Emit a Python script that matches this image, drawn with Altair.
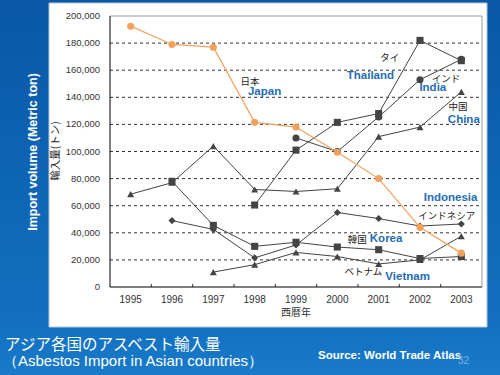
import altair as alt
import pandas as pd

years = [1995, 1996, 1997, 1998, 1999, 2000, 2001, 2002, 2003]
japan     = [192500, 179000, 177000, 121500, 118000, 99500, 80000, 44000, 25000]
thailand  = [None, None, None, 60500, 101000, 121500, 128000, 182000, 167000]
india     = [None, None, None, None, 110000, 100000, 125500, 153000, 168000]
china     = [68500, 77000, 104000, 72000, 70500, 72500, 111000, 118000, 144000]
indonesia = [None, 49000, 42500, 21500, 31000, 55000, 50500, 45000, 46500]
korea     = [None, 78000, 45500, 30000, 33000, 29500, 27500, 21000, 22500]
vietnam   = [None, None, 11000, 16500, 25500, 22500, 17000, 20000, 37500]

series = {"China": china, "Vietnam": vietnam, "Indonesia": indonesia, "Korea": korea,
          "India": india, "Thailand": thailand, "Japan": japan}
shapes = {"China": "triangle-up", "Vietnam": "triangle-up", "Indonesia": "diamond",
          "Korea": "square", "India": "circle", "Thailand": "square", "Japan": "circle"}
sizes = {"China": 50, "Vietnam": 50, "Indonesia": 40, "Korea": 60,
         "India": 45, "Thailand": 60, "Japan": 50}

rows = []
for name, vals in series.items():
    for y, v in zip(years, vals):
        if v is not None:
            rows.append({"series": name, "year": y, "value": v})
df = pd.DataFrame(rows)

y_ticks = [0, 20000, 40000, 60000, 80000, 100000, 120000, 140000, 160000, 180000, 200000]
grid_values = y_ticks[1:-1]
boundaries = [1995.5, 1996.5, 1997.5, 1998.5, 1999.5, 2000.5, 2001.5, 2002.5]

en_labels = [
    {"text": "Japan", "year": 1998.24, "value": 143900},
    {"text": "Thailand", "year": 2000.80, "value": 155700},
    {"text": "India", "year": 2002.31, "value": 146900},
    {"text": "China", "year": 2003.06, "value": 123600},
    {"text": "Indonesia", "year": 2002.74, "value": 65700},
    {"text": "Korea", "year": 2001.18, "value": 35300},
    {"text": "Vietnam", "year": 2001.70, "value": 7400},
]
jp_labels = [
    {"text": "日本", "year": 1997.89, "value": 151300},
    {"text": "タイ", "year": 2001.27, "value": 169000},
    {"text": "インド", "year": 2002.63, "value": 153300},
    {"text": "中国", "year": 2002.92, "value": 133000},
    {"text": "インドネシア", "year": 2002.65, "value": 52400},
    {"text": "韓国", "year": 2000.48, "value": 35000},
    {"text": "ベトナム", "year": 2000.63, "value": 11100},
]

W, H = 372, 271
xscale = alt.Scale(domain=[1994.5, 2003.5], nice=False, zero=False)
yscale = alt.Scale(domain=[0, 200000], nice=False)

one = alt.Data(values=[{}])


def grad(c1, c2):
    return alt.Gradient(gradient="linear",
                        stops=[alt.GradientStop(color=c1, offset=0),
                               alt.GradientStop(color=c2, offset=1)],
                        x1=0, x2=0, y1=0, y2=1)


def X(field):
    return alt.X(field, scale=xscale, axis=None)


def Y(field):
    return alt.Y(field, scale=yscale, axis=None)


# blue slide background pieces around the white chart box
left_band = alt.Chart(one).mark_rect(color=grad("#0957A6", "#1474C4")).encode(
    x=alt.value(-110), x2=alt.value(-61), y=alt.value(-16), y2=alt.value(359))
right_band = alt.Chart(one).mark_rect(color=grad("#0957A6", "#1474C4")).encode(
    x=alt.value(377), x2=alt.value(390), y=alt.value(-16), y2=alt.value(359))
top_band = alt.Chart(one).mark_rect(color="#0957A6").encode(
    x=alt.value(-110), x2=alt.value(390), y=alt.value(-16), y2=alt.value(-13))
bottom_band = alt.Chart(one).mark_rect(color=grad("#1270C0", "#1A7BCB")).encode(
    x=alt.value(-110), x2=alt.value(390), y=alt.value(311), y2=alt.value(359))
box_edge = alt.Chart(one).mark_rect(fill=None, stroke="#B8C4D0", strokeWidth=1).encode(
    x=alt.value(-61), x2=alt.value(377), y=alt.value(-13), y2=alt.value(311))

top_edge = alt.Chart(one).mark_rule(color="#999999").encode(
    x=alt.value(0), x2=alt.value(W), y=alt.value(0))
right_edge = alt.Chart(one).mark_rule(color="#999999").encode(
    x=alt.value(W), y=alt.value(0), y2=alt.value(H))
left_axis = alt.Chart(one).mark_rule(color="#000000").encode(
    x=alt.value(0), y=alt.value(0), y2=alt.value(H))
bottom_axis = alt.Chart(one).mark_rule(color="#000000").encode(
    x=alt.value(0), x2=alt.value(W), y=alt.value(H))

grid = alt.Chart(pd.DataFrame({"g": grid_values})).mark_rule(
    color="#333333", strokeWidth=1, strokeDash=[3, 3]
).encode(y=Y("g:Q"), x=alt.value(0), x2=alt.value(W))

ticks = alt.Chart(pd.DataFrame({"b": boundaries})).mark_rule(color="#333333").encode(
    x=X("b:Q"), y=alt.value(H), y2=alt.value(H - 3))

ylab_df = pd.DataFrame({"v": y_ticks, "t": [f"{v:,}" for v in y_ticks]})
ylabels = alt.Chart(ylab_df).mark_text(
    font="Liberation Sans", fontSize=9.5, color="#333333", align="right", baseline="middle"
).encode(y=Y("v:Q"), x=alt.value(-10), text="t:N")

xlab_df = pd.DataFrame({"yr": years, "t": [str(y) for y in years]})
xlabels = alt.Chart(xlab_df).mark_text(
    font="Liberation Sans", fontSize=10, color="#333333", align="center", baseline="middle"
).encode(x=X("yr:Q"), y=alt.value(H + 13), text="t:N")

xtitle = alt.Chart(one).mark_text(
    text="西暦年", font="Noto Sans CJK JP", fontSize=10, color="#333333",
    align="center", baseline="middle"
).encode(x=alt.value(W / 2), y=alt.value(H + 26))

color_scale = alt.Scale(domain=list(series.keys()),
                        range=["#444444"] * 6 + ["#F2A15C"])
pcolor_scale = alt.Scale(domain=list(series.keys()),
                         range=["#000000"] * 6 + ["#FF6A0E"])
shape_scale = alt.Scale(domain=list(shapes.keys()), range=list(shapes.values()))
size_scale = alt.Scale(domain=list(sizes.keys()), range=list(sizes.values()))

base = alt.Chart(df)
xenc = X("year:Q")
yenc = Y("value:Q")

lines_other = base.transform_filter(alt.datum.series != "Japan").mark_line(strokeWidth=1).encode(
    x=xenc, y=yenc, detail="series:N",
    color=alt.Color("series:N", scale=color_scale, legend=None))
pts_other = base.transform_filter(alt.datum.series != "Japan").mark_point(filled=True, opacity=1).encode(
    x=xenc, y=yenc,
    shape=alt.Shape("series:N", scale=shape_scale, legend=None),
    size=alt.Size("series:N", scale=size_scale, legend=None),
    color=alt.Color("series:N", scale=pcolor_scale, legend=None))
lines_jp = base.transform_filter(alt.datum.series == "Japan").mark_line(strokeWidth=1.2).encode(
    x=xenc, y=yenc, color=alt.Color("series:N", scale=color_scale, legend=None))
pts_jp = base.transform_filter(alt.datum.series == "Japan").mark_point(filled=True, opacity=1).encode(
    x=xenc, y=yenc,
    shape=alt.Shape("series:N", scale=shape_scale, legend=None),
    size=alt.Size("series:N", scale=size_scale, legend=None),
    color=alt.Color("series:N", scale=pcolor_scale, legend=None))

en_text = alt.Chart(pd.DataFrame(en_labels)).mark_text(
    font="Liberation Sans", fontSize=11.5, fontWeight="bold", color="#1F6DB3",
    align="center", baseline="middle"
).encode(x=X("year:Q"), y=Y("value:Q"), text="text:N")

jp_text = alt.Chart(pd.DataFrame(jp_labels)).mark_text(
    font="Noto Sans CJK JP", fontSize=9.5, color="#222222",
    align="center", baseline="middle"
).encode(x=X("year:Q"), y=Y("value:Q"), text="text:N")

ytitle_en = alt.Chart(one).mark_text(
    text="Import volume (Metric ton)", font="Liberation Sans", fontSize=12.5,
    fontWeight="bold", color="white", angle=270, align="center", baseline="middle"
).encode(x=alt.value(-77), y=alt.value(136))

ytitle_jp = alt.Chart(one).mark_text(
    text="輸入量(トン)", font="Noto Sans CJK JP", fontSize=10.5, color="#222222",
    angle=270, align="center", baseline="middle"
).encode(x=alt.value(-54), y=alt.value(135))

title1 = alt.Chart(one).mark_text(
    text="アジア各国のアスベスト輸入量", font="Noto Sans CJK JP", fontSize=15.5,
    color="white", align="left", baseline="middle"
).encode(x=alt.value(-105), y=alt.value(329))

title2 = alt.Chart(one).mark_text(
    text="（Asbestos Import in Asian countries）", font="Liberation Sans", fontSize=15,
    color="white", align="left", baseline="middle"
).encode(x=alt.value(-107), y=alt.value(345))

source = alt.Chart(one).mark_text(
    text="Source: World Trade Atlas", font="Liberation Sans", fontSize=11.5,
    fontWeight="bold", color="white", align="left", baseline="middle"
).encode(x=alt.value(208), y=alt.value(340))

pagenum = alt.Chart(one).mark_text(
    text="32", font="Liberation Sans", fontSize=10, color="#7FB2E0",
    align="left", baseline="middle"
).encode(x=alt.value(348), y=alt.value(345))

chart = alt.layer(
    left_band, right_band, top_band, bottom_band, box_edge,
    grid, ticks, top_edge, right_edge, left_axis, bottom_axis,
    ylabels, xlabels, xtitle,
    lines_other, pts_other, lines_jp, pts_jp,
    en_text, jp_text, ytitle_en, ytitle_jp, title1, title2, source, pagenum
).properties(
    width=W, height=H,
    autosize=alt.AutoSizeParams(type="none"),
    padding={"left": 110, "top": 16, "right": 18, "bottom": 88},
    background="white",
).configure_view(stroke=None)

chart.save("out.html", embed_options={"renderer": "svg", "actions": False})
